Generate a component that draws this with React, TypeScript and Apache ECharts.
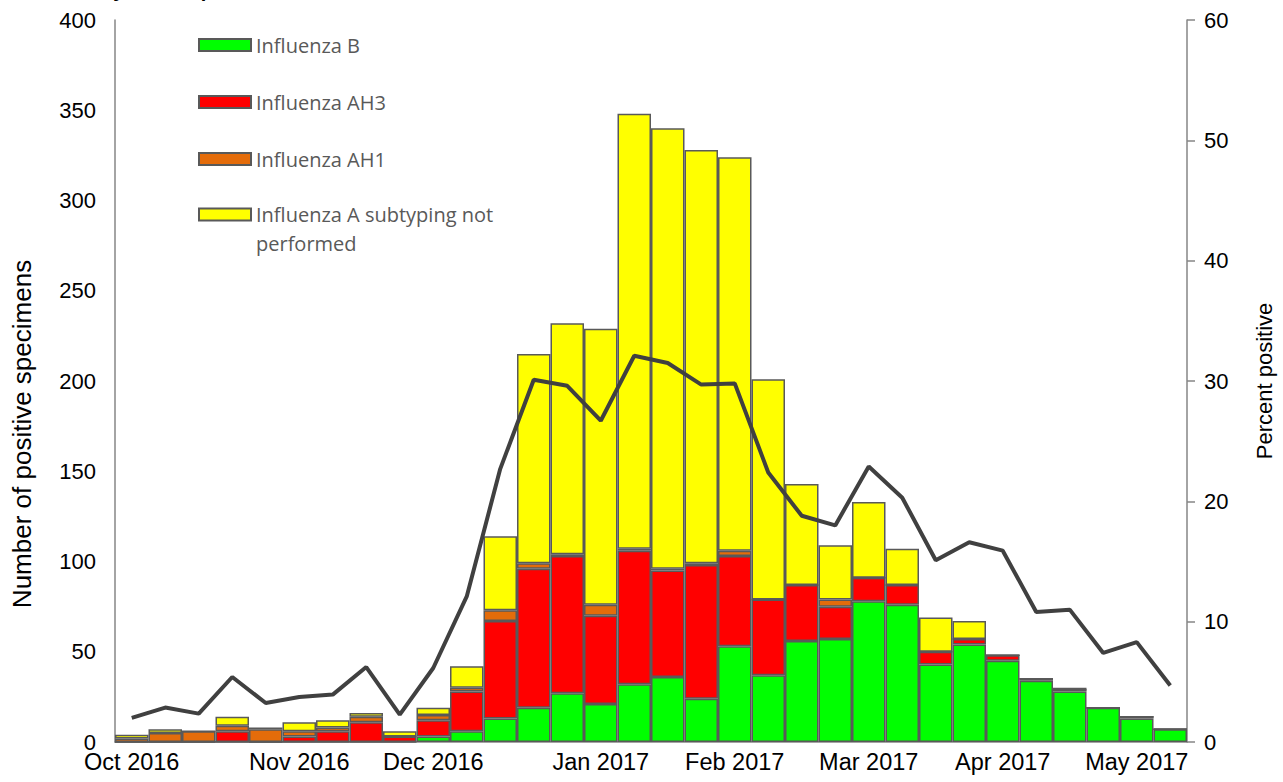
import React, { useEffect, useRef } from "react";
import * as echarts from "echarts";

// Surveillance weeks (32 weeks, Oct 2016 – May 2017)
const weeks = [
  "2016-W40", "2016-W41", "2016-W42", "2016-W43", "2016-W44", "2016-W45", "2016-W46", "2016-W47",
  "2016-W48", "2016-W49", "2016-W50", "2016-W51", "2016-W52", "2017-W01", "2017-W02", "2017-W03",
  "2017-W04", "2017-W05", "2017-W06", "2017-W07", "2017-W08", "2017-W09", "2017-W10", "2017-W11",
  "2017-W12", "2017-W13", "2017-W14", "2017-W15", "2017-W16", "2017-W17", "2017-W18", "2017-W19",
];

// Month tick labels and the week each one sits under
const monthTickWeeks = ["2016-W40", "2016-W45", "2016-W49", "2017-W02", "2017-W06", "2017-W10", "2017-W14", "2017-W18"];
const monthTickLabels = ["Oct 2016", "Nov 2016", "Dec 2016", "Jan 2017", "Feb 2017", "Mar 2017", "Apr 2017", "May 2017"];

// Number of positive specimens per week
const fluB = [0, 0, 0, 0, 0, 0, 0, 0, 0, 3, 6, 13, 19, 27, 21, 32, 36, 24, 53, 37, 56, 57, 78, 76, 43, 54, 45, 34, 28, 19, 13, 7];
const fluAH3 = [0, 0, 0, 6, 0, 3, 6, 11, 3, 9, 22, 54, 77, 76, 49, 74, 59, 74, 50, 42, 31, 18, 13, 11, 7, 3, 3, 1, 1, 0, 1, 0];
const fluAH1 = [2, 5, 6, 3, 7, 3, 2, 3, 0, 3, 2, 6, 3, 1, 6, 1, 1, 1, 3, 0, 0, 4, 0, 0, 0, 0, 0, 0, 0, 0, 0, 0];
const fluANotSubtyped = [2, 2, 0, 5, 1, 5, 4, 2, 3, 4, 12, 41, 116, 128, 153, 241, 244, 229, 218, 122, 56, 30, 42, 20, 19, 10, 0, 0, 1, 0, 0, 0];

// Percent positive per week
const percentPositive = [
  2.0, 2.86, 2.36, 5.4, 3.24, 3.74, 3.94, 6.23, 2.28, 6.15, 12.1, 22.7, 30.1, 29.6, 26.7, 32.1,
  31.5, 29.7, 29.8, 22.4, 18.8, 18.0, 22.9, 20.3, 15.1, 16.6, 15.9, 10.8, 11.0, 7.4, 8.3, 4.7,
];

const leftTicks = { min: 0, max: 400, interval: 50 };
const rightTicks = { min: 0, max: 60, interval: 10 };

const FONT = '"Liberation Sans", Arial, sans-serif';
const LEGEND_FONT = '"Open Sans", "Noto Sans", sans-serif';
const BORDER = "#595959";
const AXIS = "#868686";

export default function App() {
  const ref = useRef<HTMLDivElement>(null);

  useEffect(() => {
    document.body.style.margin = "0";
    if (!ref.current) return;
    const chart = echarts.init(ref.current, null, { renderer: "svg" });

    const barSeries = (name: string, data: number[], color: string) => ({
      name,
      type: "bar",
      stack: "total",
      data,
      barCategoryGap: "0%",
      itemStyle: { color, borderColor: BORDER, borderWidth: 1.5 },
      emphasis: { disabled: true },
    });

    const legendText = {
      color: "#595959",
      fontFamily: LEGEND_FONT,
      fontSize: 20,
      lineHeight: 20,
    };
    const legendBase = {
      orient: "vertical",
      left: 198,
      icon: "rect",
      itemWidth: 52,
      itemHeight: 12,
      itemGap: 5,
      padding: 0,
      selectedMode: false,
      textStyle: legendText,
    };

    const option = {
      animation: false,
      backgroundColor: "#ffffff",
      grid: { left: 115, right: 95, top: 20, bottom: 40, containLabel: false },
      legend: [
        { ...legendBase, top: 35, data: ["Influenza B"] },
        { ...legendBase, top: 92, data: ["Influenza AH3"] },
        { ...legendBase, top: 149, data: ["Influenza AH1"] },
        {
          ...legendBase,
          top: 171,
          data: ["Influenza A subtyping not performed"],
          formatter: () => "\nInfluenza A subtyping not\nperformed",
          textStyle: { ...legendText, lineHeight: 29 },
        },
      ],
      xAxis: {
        type: "category",
        data: weeks,
        boundaryGap: true,
        axisLine: { show: true, lineStyle: { color: AXIS, width: 1.5 } },
        axisTick: { show: false },
        splitLine: { show: false },
        axisLabel: {
          interval: 0,
          margin: 8,
          color: "#000",
          fontFamily: FONT,
          fontSize: 23.5,
          formatter: (value: string) => {
            const i = monthTickWeeks.indexOf(value);
            return i >= 0 ? monthTickLabels[i] : "";
          },
        },
      },
      yAxis: [
        {
          type: "value",
          ...leftTicks,
          position: "left",
          axisLine: { show: true, lineStyle: { color: AXIS, width: 1.5 } },
          axisTick: { show: false },
          splitLine: { show: false },
          axisLabel: { color: "#000", fontFamily: FONT, fontSize: 22, margin: 19 },
        },
        {
          type: "value",
          ...rightTicks,
          position: "right",
          name: "Percent positive",
          nameLocation: "middle",
          nameGap: 66,
          nameRotate: 90,
          nameTextStyle: { color: "#000", fontFamily: FONT, fontSize: 22 },
          axisLine: { show: true, lineStyle: { color: AXIS, width: 1.5 } },
          axisTick: { show: true, inside: false, length: 8, lineStyle: { color: AXIS, width: 1.5 } },
          splitLine: { show: false },
          axisLabel: { color: "#000", fontFamily: FONT, fontSize: 22, margin: 17 },
        },
      ],
      series: [
        barSeries("Influenza B", fluB, "#00FF00"),
        barSeries("Influenza AH3", fluAH3, "#FF0000"),
        barSeries("Influenza AH1", fluAH1, "#E46C0A"),
        barSeries("Influenza A subtyping not performed", fluANotSubtyped, "#FFFF00"),
        {
          name: "Percent positive",
          type: "line",
          yAxisIndex: 1,
          data: percentPositive,
          symbol: "none",
          lineStyle: { color: "#404040", width: 4 },
          itemStyle: { color: "#404040" },
          emphasis: { disabled: true },
          z: 5,
        },
      ],
      graphic: [
        {
          type: "text",
          x: 20,
          y: -0.5,
          silent: true,
          style: {
            text: "Laboratory Test Reports",
            font: `bold 20px ${FONT}`,
            fill: "#000",
            align: "left",
            verticalAlign: "bottom",
          },
        },
        {
          type: "text",
          x: 22,
          y: 434,
          rotation: Math.PI / 2,
          silent: true,
          style: {
            text: "Number of positive specimens",
            font: `26px ${FONT}`,
            fill: "#000",
            align: "center",
            verticalAlign: "middle",
          },
        },
      ],
    };

    chart.setOption(option as any);
    return () => chart.dispose();
  }, []);

  return <div ref={ref} style={{ width: 1283, height: 782 }} />;
}
